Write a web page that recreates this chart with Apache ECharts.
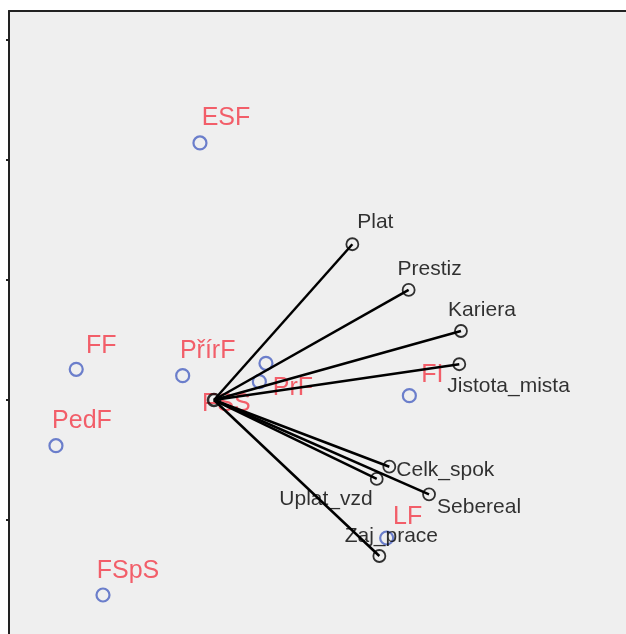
<!DOCTYPE html>
<html>
<head>
<meta charset="utf-8">
<script src="https://cdn.jsdelivr.net/npm/echarts@6/dist/echarts.min.js"></script>
<style>
  html, body { margin: 0; padding: 0; background: #fff; }
  #chart { width: 626px; height: 634px; }
</style>
</head>
<body>
<div id="chart"></div>
<script>
// promenne (cerne vektory)
const varNames = ['Plat', 'Prestiz', 'Kariera', 'Jistota_mista', 'Celk_spok', 'Uplat_vzd', 'Sebereal', 'Zaj_prace']
const varX = [1.153, 1.622, 2.058, 2.044, 1.461, 1.356, 1.792, 1.378]
const varY = [1.298, 0.917, 0.575, 0.298, -0.556, -0.658, -0.786, -1.300]

// fakulty (modre body)
const objNames = ['ESF', 'FF', 'PedF', 'PřírF', 'PrF', 'FSS', 'FI', 'LF', 'FSpS']
const objX = [-0.117, -1.148, -1.317, -0.261, 0.433, 0.378, 1.628, 1.439, -0.925]
const objY = [2.142, 0.256, -0.381, 0.203, 0.306, 0.153, 0.036, -1.150, -1.625]

const yTicks = [-1, 0, 1, 2, 3]

// umisteni popisku (jen styl)
const varLabelPos = {
  Plat: { offset: [23, -22], align: 'center' },
  Prestiz: { offset: [21, -21], align: 'center' },
  Kariera: { offset: [21, -21], align: 'center' },
  Jistota_mista: { offset: [-12, 22], align: 'left' },
  Celk_spok: { offset: [7, 3], align: 'left' },
  Uplat_vzd: { offset: [-4, 20], align: 'right' },
  Sebereal: { offset: [8, 13], align: 'left' },
  Zaj_prace: { offset: [12, -20], align: 'center' }
}
const objLabelPos = {
  ESF: [26, -25],
  FF: [25, -23],
  PedF: [26, -25],
  'PřírF': [25, -25],
  PrF: [27, 25],
  FSS: [-33, 22],
  FI: [23, -21],
  LF: [21, -21],
  FSpS: [25, -24]
}

const font = '"Liberation Sans", Arial, sans-serif'
const red = '#f23a47'
const blue = '#4a62c2'

const objData = objNames.map((n, i) => ({
  name: n,
  value: [objX[i], objY[i]],
  label: { offset: objLabelPos[n] }
}))

const varData = varNames.map((n, i) => ({
  name: n,
  value: [varX[i], varY[i]],
  label: { offset: varLabelPos[n].offset, align: varLabelPos[n].align }
}))

const lineSeries = varNames.map((n, i) => ({
  type: 'line',
  name: n,
  z: 3,
  silent: true,
  symbol: 'none',
  animation: false,
  lineStyle: { color: '#000', width: 2.5 },
  data: [[0, 0], [varX[i], varY[i]]]
}))

const option = {
  animation: false,
  grid: {
    left: 9,
    top: 11,
    right: 0,
    bottom: 0,
    show: true,
    backgroundColor: '#efefef',
    borderWidth: 0
  },
  xAxis: {
    type: 'value',
    position: 'top',
    min: -1.7083,
    max: 3.4333,
    axisLine: { show: true, onZero: false, lineStyle: { color: '#222', width: 2 } },
    axisTick: { show: false },
    axisLabel: { show: false },
    splitLine: { show: false }
  },
  yAxis: {
    type: 'value',
    min: -1.95,
    max: 3.2417,
    axisLine: { show: true, onZero: false, lineStyle: { color: '#222', width: 2 } },
    axisTick: { show: true, length: 3, customValues: yTicks, lineStyle: { color: '#222', width: 2 } },
    axisLabel: { show: false },
    splitLine: { show: false }
  },
  series: [
    {
      type: 'scatter',
      name: 'fakulty',
      z: 2,
      symbol: 'circle',
      symbolSize: 13,
      itemStyle: { color: 'rgba(0,0,0,0)', borderColor: blue, borderWidth: 2.2 },
      label: {
        show: true,
        position: 'inside',
        formatter: '{b}',
        color: red,
        fontFamily: font,
        fontSize: 25,
        textBorderWidth: 0
      },
      data: objData
    },
    ...lineSeries,
    {
      type: 'scatter',
      name: 'promenne',
      z: 4,
      symbol: 'circle',
      symbolSize: 12,
      itemStyle: { color: 'rgba(0,0,0,0)', borderColor: '#000', borderWidth: 1.8 },
      label: {
        show: true,
        position: 'inside',
        formatter: '{b}',
        color: '#000',
        fontFamily: font,
        fontSize: 21,
        textBorderWidth: 0
      },
      data: varData
    },
    {
      type: 'scatter',
      name: 'pocatek',
      z: 4,
      symbol: 'circle',
      symbolSize: 12,
      itemStyle: { color: 'rgba(0,0,0,0)', borderColor: '#000', borderWidth: 2.5 },
      data: [[0, 0]]
    }
  ]
}

const myChart = echarts.init(document.getElementById('chart'))
myChart.setOption(option)
window.onresize = myChart.resize
</script>
</body>
</html>
